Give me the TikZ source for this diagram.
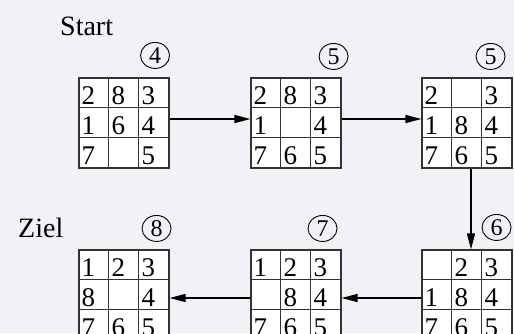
\documentclass[tikz,border=0pt]{standalone}
\usepackage{fontspec}
\setmainfont{Liberation Serif}
\usetikzlibrary{arrows.meta, positioning, shapes.geometric}

\definecolor{bggray}{RGB}{241,242,246}

% 3x3 board: name, centre, nine entries row by row
\newcommand{\brett}[3]{%
	\node[board] (#1) at (#2) {};
	\foreach \k in {1,2} {
		\draw[cell line] ([shift={(30*\k,0)}]#1.north west) -- ([shift={(30*\k,0)}]#1.south west);
		\draw[cell line] ([shift={(0,30*\k)}]#1.north west) -- ([shift={(0,30*\k)}]#1.north east);
	}
	\foreach \n [count=\i from 0] in {#3} {
		\pgfmathtruncatemacro{\col}{mod(\i,3)}
		\pgfmathtruncatemacro{\row}{div(\i,3)}
		\node[tile] (#1-\i) at ([shift={(30*\col+3,30*\row+27)}]#1.north west) {\n};
	}%
}

\begin{document}
\begin{tikzpicture}[x=1pt,y=-1pt,>={Triangle[length=16pt,width=8pt]}]
	
	\tikzset{board/.style={draw=black!80, fill=white, line width=1.1pt,
			minimum size=90pt, inner sep=0pt},
		cell line/.style={draw=black!80, line width=1.1pt},
		tile/.style={anchor=base west, inner sep=0pt,
			font=\fontsize{27}{27}\selectfont},
		score/.style={ellipse, draw, line width=0.9pt, minimum width=29pt,
			minimum height=26pt, inner sep=0pt,
			font=\fontsize{24}{24}\selectfont},
		title txt/.style={anchor=base west, inner sep=0pt,
			font=\fontsize{28}{28}\selectfont},
		flow/.style={->, draw=black, line width=1.3pt}}
	
	\fill[bggray] (0,0) rectangle (514,333);
	\useasboundingbox (0,0) rectangle (514,333);
	
	\node[title txt] (start) at (60,35) {Start};
	\node[title txt] (ziel) at (18,237) {Ziel};
	
	\brett{b1}{124,123}{2,8,3,1,6,4,7,{},5}
	\brett{b2}{296,123}{2,8,3,1,{},4,7,6,5}
	\brett{b3}{467,123}{2,{},3,1,8,4,7,6,5}
	\brett{b4}{124,295}{1,2,3,8,{},4,7,6,5}
	\brett{b5}{296,295}{1,2,3,{},8,4,7,6,5}
	\brett{b6}{467,295}{{},2,3,1,8,4,7,6,5}
	
	\node[score] (s1) at ([shift={(-14.5,-22)}]b1.north east) {4};
	\node[score] (s2) at ([shift={(-8,-21)}]b2.north east) {5};
	\node[score] (s3) at ([shift={(-22,-21)}]b3.north east) {5};
	\node[score] (s4) at ([shift={(-13,-21)}]b4.north east) {8};
	\node[score] (s5) at ([shift={(-19,-21)}]b5.north east) {7};
	\node[score] (s6) at ([shift={(-16,-22)}]b6.north east) {6};
	
	\draw[flow] ([yshift=4pt]b1.east) -- ([yshift=4pt]b2.west);
	\draw[flow] ([yshift=4pt]b2.east) -- ([yshift=4pt]b3.west);
	\draw[flow] ([xshift=4pt]b3.south) -- ([xshift=4pt]b6.north);
	\draw[flow] ([yshift=-3pt]b6.west) -- ([yshift=-3pt]b5.east);
	\draw[flow] ([yshift=-3pt]b5.west) -- ([yshift=-3pt]b4.east);
	
\end{tikzpicture}
\end{document}
